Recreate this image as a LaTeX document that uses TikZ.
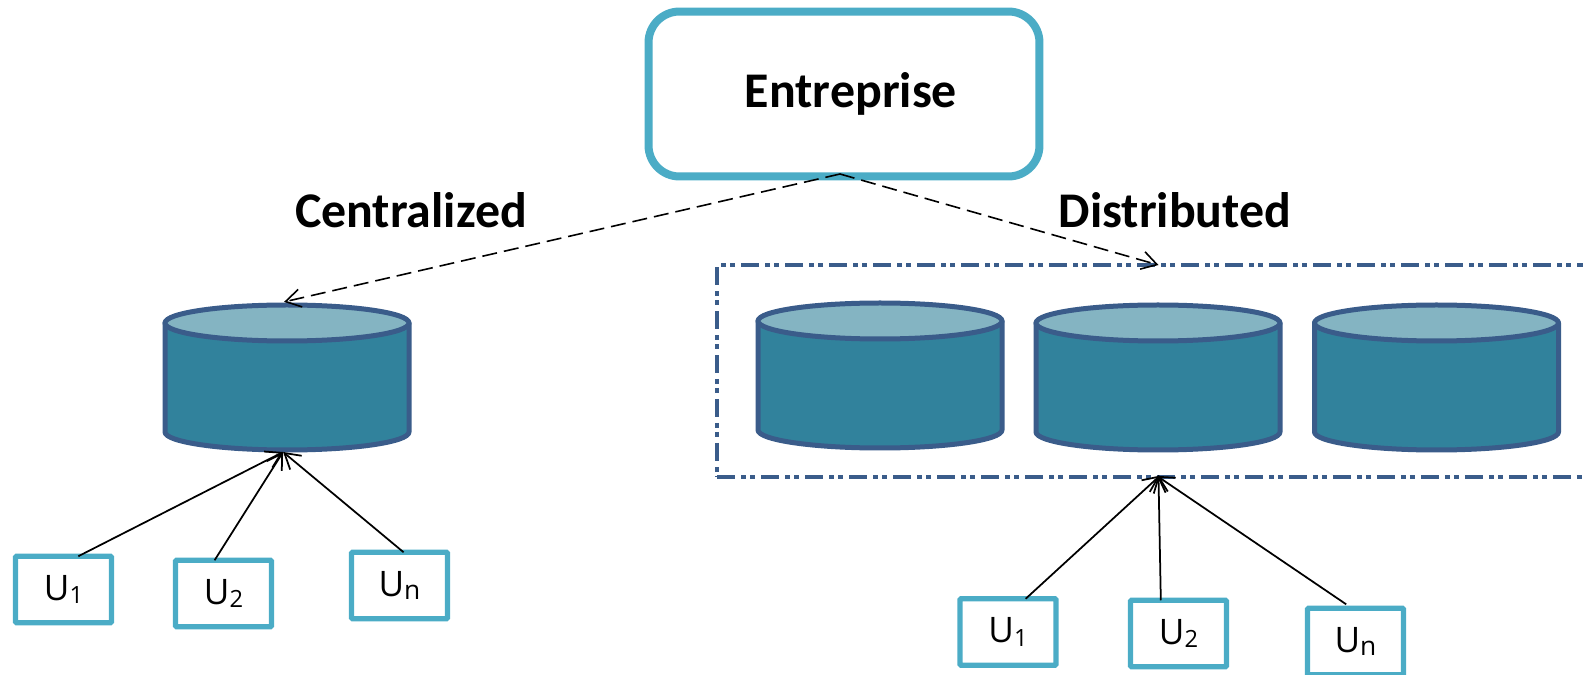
\documentclass[tikz,border=0pt]{standalone}
\usepackage{xcolor}
\usepackage{fontspec}
\setmainfont{Carlito}
\newfontfamily\boxfont{Open Sans}
\usetikzlibrary{
  positioning,
  arrows.meta
}
\definecolor{boxblue}{HTML}{4BACC6}
\definecolor{edgeblue}{HTML}{3A5C8A}
\definecolor{bodyteal}{HTML}{31829C}
\definecolor{topteal}{HTML}{84B4C2}
\newcommand{\usr}[2]{{\boxfont\fontsize{20}{22}\selectfont U\raisebox{-1.8pt}{\fontsize{#2}{12}\selectfont #1}}}
\tikzset{
  entbox/.style={draw=boxblue,line width=0.16cm,rounded corners=0.62cm,minimum width=7.82cm,minimum height=3.3cm,fill=white},
  userbox/.style={draw=boxblue,line width=0.105cm,rounded corners=0.02cm,minimum width=1.92cm,minimum height=1.33cm,inner sep=0pt,outer sep=0pt},
  dbslot/.style={minimum width=4.96cm,minimum height=2.98cm,inner sep=0pt,outer sep=0pt},
  dbedge/.style={draw=edgeblue,line width=0.1cm,line join=round},
  groupbox/.style={draw=edgeblue,line width=0.08cm,dash pattern=on 0.36cm off 0.12cm on 0.1cm off 0.08cm on 0.1cm off 0.12cm,
    minimum width=17.66cm,minimum height=4.24cm,inner sep=0pt,outer sep=0pt},
  title/.style={font=\bfseries\fontsize{28.4}{32}\selectfont},
  dashlink/.style={-{Straight Barb[length=0.3cm,width=0.36cm]},line width=0.032cm,dash pattern=on 0.3cm off 0.14cm},
  uselink/.style={-{Straight Barb[length=0.3cm,width=0.36cm]},line width=0.035cm}
}
\begin{document}
\begin{tikzpicture}[x=0.02cm,y=-0.02cm]
  \useasboundingbox (0,0) rectangle (1583,675);
  % 全社
  \node[entbox,title] (ent) at (844,94) {\hspace{0.28cm}Entreprise};
  \coordinate (apex) at (840,174);
  \node[title] (cen) at (411,210) {Centralized};
  \node[title] (dis) at (1175,210) {Distributed};
  % 分散の枠
  \node[groupbox] (rgroup) at (1158.5,371) {};
  % 円筒
  \foreach \n/\x/\y in {ldb/287/377.5,rda/880/375.5,rdb/1158/377.5,rdc/1436.5/377.5}{
    \node[dbslot] (\n) at (\x,\y) {};
    \begin{scope}[shift={(\x,\y)}]
      \draw[dbedge,fill=bodyteal] (-122,-54.5) -- (-122,54.5)
        arc[start angle=180,end angle=0,x radius=122,y radius=18] -- (122,-54.5) -- cycle;
      \draw[dbedge,fill=topteal] (0,-54.5) ellipse[x radius=122,y radius=18];
    \end{scope}
  }
  % 利用者
  \node[userbox] (lua) at (63.5,589.5) {\usr{1}{13.5}};
  \node[userbox] (lub) at (223.5,593.5) {\usr{2}{13.5}};
  \node[userbox] (lun) at (399.5,585.5) {\usr{n}{15}};
  \node[userbox] (rua) at (1008,632) {\usr{1}{13.5}};
  \node[userbox] (rub) at (1178.5,633.5) {\usr{2}{13.5}};
  \node[userbox] (run) at (1355.5,641.5) {\usr{n}{15}};
  % 矢印
  \draw[dashlink,shorten >=0.1cm] (apex) -- (ldb.96);
  \draw[dashlink] (apex) -- (rgroup.north);
  \draw[uselink] (lua.66) -- (ldb.267);
  \draw[uselink] (lub.105) -- (ldb.267);
  \draw[uselink] (lun.83) -- (ldb.267);
  \draw[uselink,shorten >=-0.04cm] (rua.62) -- (rgroup.south);
  \draw[uselink,shorten >=-0.04cm] (rub.118) -- (rgroup.south);
  \draw[uselink,shorten >=-0.04cm,shorten <=0.14cm] (run.96) -- (rgroup.south);
\end{tikzpicture}
\end{document}
